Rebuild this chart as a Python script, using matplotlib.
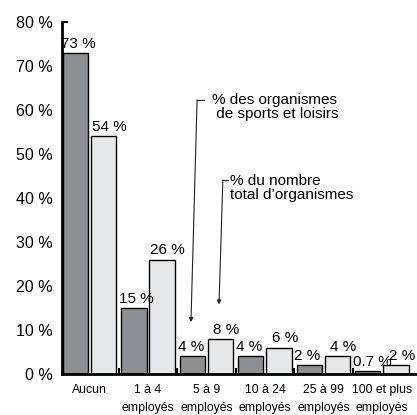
import numpy as np
import matplotlib
matplotlib.use("Agg")
import matplotlib.pyplot as plt

plt.rcParams['font.family'] = ['Liberation Sans', 'DejaVu Sans']

# données
categories = ['Aucun', '1 à 4\nemployés', '5 à 9\nemployés', '10 à 24\nemployés',
              '25 à 99\nemployés', '100 et plus\nemployés']
sports_loisirs = [73, 15, 4, 4, 2, 0.7]   # % des organismes de sports et loisirs
total_orgs = [54, 26, 8, 6, 4, 2]          # % du nombre total d'organismes
sports_labels = ['73 %', '15 %', '4 %', '4 %', '2 %', '0.7 %']
total_labels = ['54 %', '26 %', '8 %', '6 %', '4 %', '2 %']
y_ticks = [0, 10, 20, 30, 40, 50, 60, 70, 80]

fig = plt.figure(figsize=(4.17, 4.15), dpi=100)
ax = fig.add_axes([62 / 417, 1 - 374 / 415, 1 - 62 / 417, (374 - 22) / 415])

x = np.arange(len(categories))
w = 0.43
off = 0.24
x_dark = x - off
x_light = x + off

ax.bar(x_dark, sports_loisirs, w, color='#8e8f93', edgecolor='black', linewidth=1, zorder=2)
ax.bar(x_light, total_orgs, w, color='#e6e7e9', edgecolor='black', linewidth=1, zorder=2)

# étiquettes des valeurs
for xi, v, lab in zip(x_dark, sports_loisirs, sports_labels):
    ax.text(xi - w / 2 - 0.04, v + 0.5, lab, ha='left', va='bottom', fontsize=11)
for xi, v, lab in zip(x_light, total_orgs, total_labels):
    ax.text(xi + 0.1, v + 0.5, lab, ha='center', va='bottom', fontsize=11)

ax.set_xlim(-0.47, 5.6)
ax.set_ylim(0, 80)

ax.set_yticks(y_ticks)
ax.set_yticklabels([f'{t} %' for t in y_ticks])
ax.tick_params(axis='y', direction='in', length=4, width=1.5, pad=7, labelsize=11.5)

ax.set_xticks(x)
ax.set_xticklabels(categories, fontsize=8.8, linespacing=1.75, va='top')
ax.tick_params(axis='x', which='major', length=0, pad=7)
ax.set_xticks(x[:-1] + 0.5, minor=True)
ax.tick_params(axis='x', which='minor', direction='in', length=4, width=1.5)

for s in ['top', 'right']:
    ax.spines[s].set_visible(False)
ax.spines['left'].set_linewidth(2)
ax.spines['bottom'].set_linewidth(2)
ax.spines['left'].set_zorder(3)
ax.spines['bottom'].set_zorder(3)

# légende par flèches
arrow = dict(arrowstyle='-|>', lw=0.8, color='#222222', mutation_scale=6,
             shrinkA=0, shrinkB=0)
s1 = (1.84, 62.3)
s2 = (2.28, 44.1)
ax.annotate('', xy=(x_dark[2] - 0.025, sports_loisirs[2] + 7.8), xytext=s1, arrowprops=arrow)
ax.annotate('', xy=(x_light[2] - 0.025, total_orgs[2] + 7.8), xytext=s2, arrowprops=arrow)
ax.plot([s1[0], s1[0] + 0.11], [s1[1], s1[1]], color='#222222', lw=0.8, clip_on=False)
ax.plot([s2[0], s2[0] + 0.08], [s2[1], s2[1]], color='#222222', lw=0.8, clip_on=False)
ax.text(2.09, s1[1] + 1.6, '% des organismes\n de sports et loisirs', ha='left', va='top',
        fontsize=11, linespacing=1.0)
ax.text(2.40, s2[1] + 1.3, '% du nombre\ntotal d’organismes', ha='left', va='top',
        fontsize=11, linespacing=1.0)

# titre coupé en haut
fig.text(0.57, 1.012, 'Organismes selon le nombre d’employés rémunérés', ha='center',
         va='baseline', fontsize=12, color='#444444')

fig.savefig('out.png', dpi=100)
